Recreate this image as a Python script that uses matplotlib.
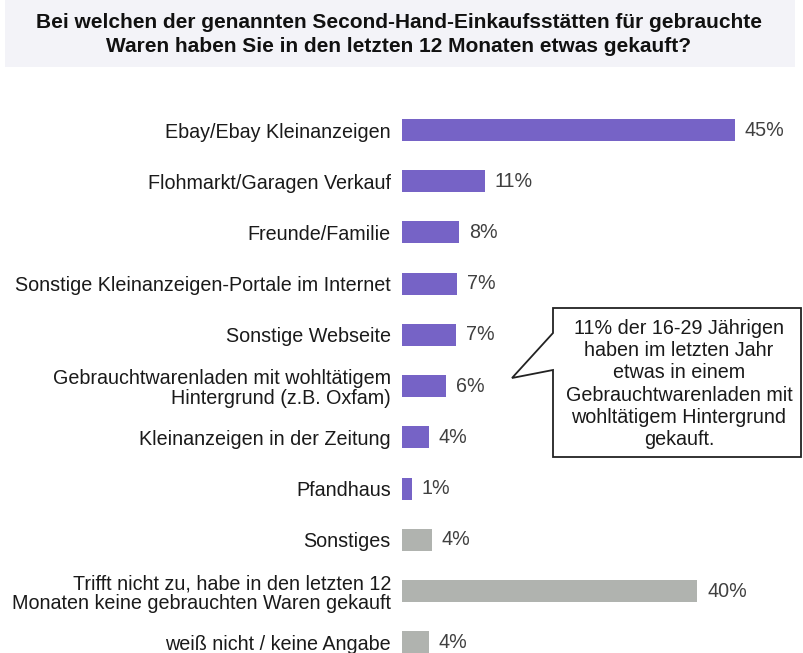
import matplotlib
matplotlib.use("Agg")
import matplotlib.pyplot as plt
from matplotlib.patches import Rectangle, Polygon

categories = [
    "Ebay/Ebay Kleinanzeigen",
    "Flohmarkt/Garagen Verkauf",
    "Freunde/Familie",
    "Sonstige Kleinanzeigen-Portale im Internet",
    "Sonstige Webseite",
    "Gebrauchtwarenladen mit wohltätigem\nHintergrund (z.B. Oxfam)",
    "Kleinanzeigen in der Zeitung",
    "Pfandhaus",
    "Sonstiges",
    "Trifft nicht zu, habe in den letzten 12\nMonaten keine gebrauchten Waren gekauft",
    "weiß nicht / keine Angabe",
]
values = [45.0, 11.2, 7.7, 7.4, 7.3, 5.9, 3.6, 1.35, 4.05, 39.9, 3.6]
labels = ["45%", "11%", "8%", "7%", "7%", "6%", "4%", "1%", "4%", "40%", "4%"]
groups = ["main"] * 8 + ["other"] * 3

title = ("Bei welchen der genannten Second-Hand-Einkaufsstätten für gebrauchte\n"
         "Waren haben Sie in den letzten 12 Monaten etwas gekauft?")
callout = ("11% der 16-29 Jährigen\nhaben im letzten Jahr\netwas in einem\n"
           "Gebrauchtwarenladen mit\nwohltätigem Hintergrund\ngekauft.")

colors = {"main": "#7663C6", "other": "#B0B3AF"}

W, H = 804, 653
plt.rcParams["font.family"] = ["Liberation Sans", "DejaVu Sans"]
fig = plt.figure(figsize=(W / 100, H / 100), dpi=100)

def fx(px):
    return px / W

def fy(py):
    return 1 - py / H

# axes placement in pixels
ax_left, ax_right = 402, 402 + 7.4 * 50
ax_top, ax_bottom = 104.4, 653
ax = fig.add_axes([fx(ax_left), fy(ax_bottom), fx(ax_right) - fx(ax_left), fy(ax_top) - fy(ax_bottom)])
ax.set_xlim(0, 50)
ax.set_ylim(10.21, -0.5)

ypos = list(range(len(categories)))
ax.barh(ypos, values, height=0.43, color=[colors[g] for g in groups], edgecolor="none")
for y, v, lab in zip(ypos, values, labels):
    ax.text(v + 1.35, y, lab, va="center", ha="left", fontsize=14.2, color="#404040")
ax.set_yticks(ypos)
ax.set_yticklabels(categories, fontsize=14.2, color="#1a1a1a", linespacing=1.05)
ax.tick_params(axis="y", length=0, pad=8)
ax.set_xticks([])
for s in ax.spines.values():
    s.set_visible(False)
ax.patch.set_alpha(0)

# title box
fig.patches.append(Rectangle((fx(5), fy(67)), fx(790), 67 / H, transform=fig.transFigure,
                             facecolor="#F3F3F8", edgecolor="none", zorder=0))
fig.text(fx(399), fy(34.5), title, ha="center", va="center", fontsize=15,
         fontweight="bold", color="#111111", linespacing=1.4)

# callout
pts = [(553, 308), (801, 308), (801, 457), (553, 457), (553, 370), (512, 378), (553, 333)]
fig.patches.append(Polygon([(fx(x), fy(y)) for x, y in pts], closed=True,
                           transform=fig.transFigure, facecolor="white",
                           edgecolor="#222222", linewidth=1.3, zorder=5))
fig.text(fx(679), fy(384), callout, ha="center", va="center", fontsize=14.2,
         color="#1a1a1a", linespacing=1.22, zorder=6)

fig.savefig("out.png", dpi=100)
